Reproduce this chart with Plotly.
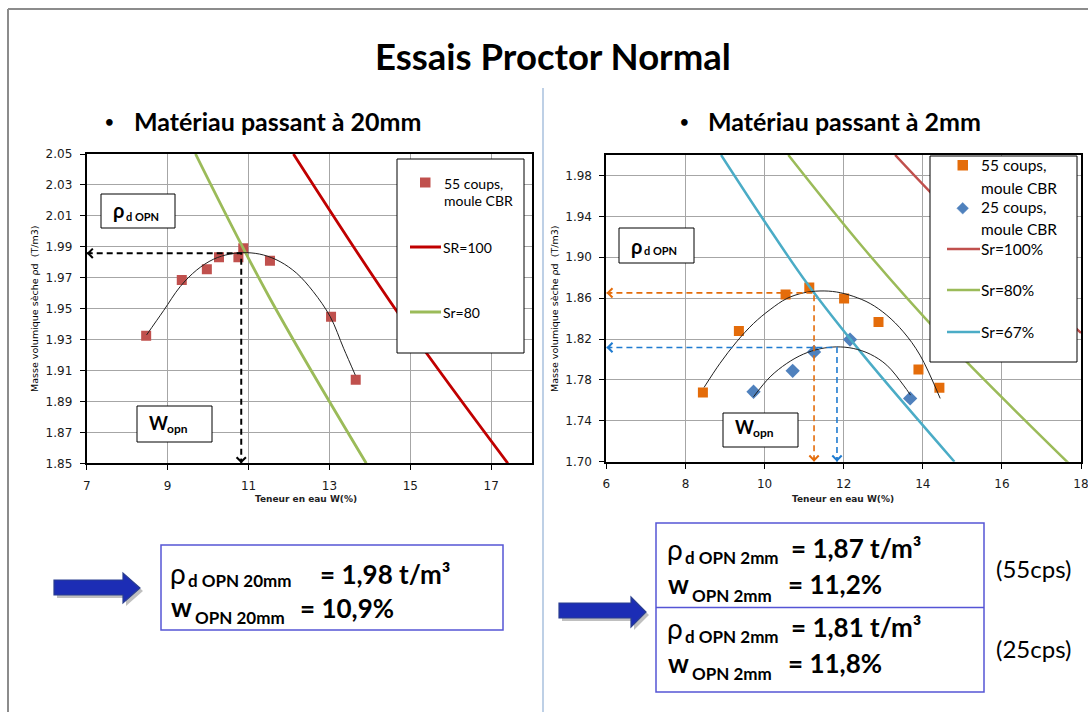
import plotly.graph_objects as go

# ---------------- DATA ----------------
# Left chart : material passing 20 mm, 55 blows, CBR mould
w_20 = [8.47, 9.35, 9.97, 10.27, 10.75, 10.87, 11.53, 13.04, 13.65]
rho_20 = [1.9325, 1.9685, 1.9754, 1.9832, 1.9832, 1.9890, 1.9810, 1.9448, 1.9040]
trend_20_w = [8.48, 8.90, 9.31, 9.72, 10.13, 10.54, 10.96, 11.37, 11.78, 12.19, 12.60, 13.02, 13.35, 13.64]
trend_20_rho = [1.9330, 1.9487, 1.9642, 1.9750, 1.9819, 1.9853, 1.9862, 1.9847, 1.9804, 1.9729, 1.9610, 1.9448, 1.9244, 1.9070]
sr100_20_w = [12.11, 14.70, 17.41]
sr100_20_rho = [2.05, 1.947, 1.85]
sr80_20_w = [9.69, 11.50, 13.91]
sr80_20_rho = [2.05, 1.958, 1.85]
opt_20 = [10.82, 1.9858]          # w, rho of the dashed guides

# Right chart : material passing 2 mm
w_2_55 = [8.44, 9.35, 10.53, 11.13, 12.01, 12.88, 13.89, 14.42]
rho_2_55 = [1.7678, 1.8279, 1.8635, 1.8703, 1.8596, 1.8367, 1.7902, 1.7723]
w_2_25 = [9.72, 10.71, 11.25, 12.16, 13.68]
rho_2_25 = [1.7684, 1.7889, 1.8074, 1.8195, 1.7619]
trend_55_w = [8.47, 8.87, 9.29, 9.72, 10.14, 10.56, 10.98, 11.40, 11.82, 12.24, 12.67, 13.09, 13.51, 13.93, 14.44]
trend_55_rho = [1.7727, 1.7961, 1.8172, 1.8352, 1.8488, 1.8596, 1.8651, 1.8670, 1.8660, 1.8618, 1.8547, 1.8433, 1.8270, 1.8042, 1.7619]
trend_25_w = [9.72, 10.14, 10.56, 10.98, 11.40, 11.82, 12.24, 12.67, 13.09, 13.51, 13.69]
trend_25_rho = [1.7635, 1.7830, 1.7961, 1.8052, 1.8104, 1.8123, 1.8108, 1.8052, 1.7944, 1.7749, 1.7651]
sr100_2_w = [13.30, 15.00, 18.00]
sr100_2_rho = [2.00, 1.932, 1.826]
sr80_2_w = [10.60, 12.50, 14.50, 17.70]
sr80_2_rho = [2.00, 1.909, 1.822, 1.698]
sr67_2_w = [8.90, 10.00, 11.10, 12.50, 14.80]
sr67_2_rho = [2.00, 1.935, 1.873, 1.804, 1.70]
opt_2_55 = [11.25, 1.8651]
opt_2_25 = [11.83, 1.8117]

x_ticks_left = [7, 9, 11, 13, 15, 17]
x_ticks_right = [6, 8, 10, 12, 14, 16, 18]

# ---------------- helpers ----------------
W, H = 1088, 712
FONT = "Lato"
AXF = "DejaVu Sans"


def PX(x):
    return x / W


def PY(y):
    return 1 - y / H


annotations = []
shapes = []


def txt(x, y, s, size, bold=False, color="black", xanchor="left", family=FONT, angle=0):
    annotations.append(dict(x=PX(x), y=PY(y), xref="paper", yref="paper", text=s,
                            showarrow=False, xanchor=xanchor, yanchor="middle",
                            textangle=angle, borderpad=0,
                            font=dict(family=family, size=size, color=color,
                                      weight="bold" if bold else "normal")))


def rect(x0, y0, x1, y1, line="black", width=1, fill="white"):
    shapes.append(dict(type="rect", xref="paper", yref="paper", x0=PX(x0), x1=PX(x1),
                       y0=PY(y0), y1=PY(y1), line=dict(color=line, width=width),
                       fillcolor=fill, layer="above"))


def seg(x0, y0, x1, y1, color, width):
    shapes.append(dict(type="line", xref="paper", yref="paper", x0=PX(x0), x1=PX(x1),
                       y0=PY(y0), y1=PY(y1), line=dict(color=color, width=width),
                       layer="above"))


def poly(points, fill, line, width=1):
    path = "M " + " L ".join(f"{PX(a):.5f},{PY(b):.5f}" for a, b in points) + " Z"
    shapes.append(dict(type="path", xref="paper", yref="paper", path=path,
                       fillcolor=fill, line=dict(color=line, width=width), layer="above"))


fig = go.Figure()

# ---------------- left chart traces ----------------
fig.add_trace(go.Scatter(x=w_20, y=rho_20, mode="markers", xaxis="x", yaxis="y",
                         marker=dict(symbol="square", size=10, color="#c0504d")))
fig.add_trace(go.Scatter(x=sr80_20_w, y=sr80_20_rho, mode="lines", xaxis="x", yaxis="y",
                         line=dict(color="#9bbb59", width=2.8, shape="spline")))
fig.add_trace(go.Scatter(x=sr100_20_w, y=sr100_20_rho, mode="lines", xaxis="x", yaxis="y",
                         line=dict(color="#c00000", width=2.8, shape="spline")))
fig.add_trace(go.Scatter(x=trend_20_w, y=trend_20_rho, mode="lines", xaxis="x", yaxis="y",
                         line=dict(color="#202020", width=1, shape="spline")))
fig.add_trace(go.Scatter(x=[7, opt_20[0], opt_20[0]], y=[opt_20[1], opt_20[1], 1.85],
                         mode="lines", xaxis="x", yaxis="y",
                         line=dict(color="black", width=2, dash="6px,4px")))

# ---------------- right chart traces ----------------
fig.add_trace(go.Scatter(x=w_2_55, y=rho_2_55, mode="markers", xaxis="x2", yaxis="y2",
                         marker=dict(symbol="square", size=10, color="#e46c0a")))
fig.add_trace(go.Scatter(x=w_2_25, y=rho_2_25, mode="markers", xaxis="x2", yaxis="y2",
                         marker=dict(symbol="diamond", size=11, color="#4f81bd")))
fig.add_trace(go.Scatter(x=sr100_2_w, y=sr100_2_rho, mode="lines", xaxis="x2", yaxis="y2",
                         line=dict(color="#c0504d", width=2.5, shape="spline")))
fig.add_trace(go.Scatter(x=sr80_2_w, y=sr80_2_rho, mode="lines", xaxis="x2", yaxis="y2",
                         line=dict(color="#9bbb59", width=2.5, shape="spline")))
fig.add_trace(go.Scatter(x=sr67_2_w, y=sr67_2_rho, mode="lines", xaxis="x2", yaxis="y2",
                         line=dict(color="#4bacc6", width=2.5, shape="spline")))
fig.add_trace(go.Scatter(x=trend_55_w, y=trend_55_rho, mode="lines", xaxis="x2", yaxis="y2",
                         line=dict(color="#202020", width=1, shape="spline")))
fig.add_trace(go.Scatter(x=trend_25_w, y=trend_25_rho, mode="lines", xaxis="x2", yaxis="y2",
                         line=dict(color="#202020", width=1, shape="spline")))
fig.add_trace(go.Scatter(x=[6, opt_2_55[0], opt_2_55[0]], y=[opt_2_55[1], opt_2_55[1], 1.70],
                         mode="lines", xaxis="x2", yaxis="y2",
                         line=dict(color="#e46c0a", width=1.6, dash="6px,4px")))
fig.add_trace(go.Scatter(x=[6, opt_2_25[0], opt_2_25[0]], y=[opt_2_25[1], opt_2_25[1], 1.70],
                         mode="lines", xaxis="x2", yaxis="y2",
                         line=dict(color="#1f7bd0", width=1.6, dash="6px,4px")))


# arrow heads on the dashed guides
def head(xr, yr, x, y, ax, ay, color):
    annotations.append(dict(x=x, y=y, xref=xr, yref=yr, ax=ax, ay=ay, text="",
                            showarrow=True, arrowhead=4, arrowsize=1.2, arrowwidth=1.5,
                            arrowcolor=color, standoff=0))


head("x", "y", 7, opt_20[1], 6, 0, "black")
head("x", "y", opt_20[0], 1.85, 0, -6, "black")
head("x2", "y2", 6, opt_2_55[1], 6, 0, "#e46c0a")
head("x2", "y2", opt_2_55[0], 1.70, 0, -6, "#e46c0a")
head("x2", "y2", 6, opt_2_25[1], 6, 0, "#1f7bd0")
head("x2", "y2", opt_2_25[0], 1.70, 0, -6, "#1f7bd0")

# ---------------- slide decorations ----------------
seg(8, 9, 1088, 9, "#8c8c8c", 2)
seg(8, 9, 8, 712, "#8c8c8c", 2)
seg(543, 88, 543, 712, "#a9c0de", 1.5)

txt(553, 56, "Essais Proctor Normal", 36.5, bold=True, xanchor="center")
txt(104, 121, "•", 15, bold=True)
txt(133, 121, "Matériau passant à 20mm", 25, bold=True)
txt(679, 121, "•", 15, bold=True)
txt(707, 121, "Matériau passant à 2mm", 25, bold=True)

# ---------------- left chart overlays ----------------
rect(397, 159, 524, 353)
shapes.append(dict(type="rect", xref="paper", yref="paper", x0=PX(420), x1=PX(430.5),
                   y0=PY(177.5), y1=PY(187.5), line=dict(width=0), fillcolor="#c0504d",
                   layer="above"))
txt(443, 183, "55 coups,", 14)
txt(443, 201, "moule CBR", 14)
seg(410, 247, 441, 247, "#c00000", 3)
txt(442, 247, "SR=100", 14)
seg(410, 312, 441, 312, "#9bbb59", 3)
txt(442, 312, "Sr=80", 14)

rect(101, 194, 175, 228)
txt(112, 210, "ρ", 20, bold=True)
txt(125, 216, "d OPN", 11, bold=True)
rect(137, 406, 212, 442)
txt(148, 423, "W", 18, bold=True)
txt(166, 428, "opn", 12, bold=True)

txt(34, 309, "Masse volumique sèche ρd  (T/m3)", 9.5, family=AXF, angle=-90,
    xanchor="center")
txt(306, 499, "Teneur en eau W(%)", 9, bold=True, family=AXF, color="#222",
    xanchor="center")

# ---------------- right chart overlays ----------------
rect(930, 156, 1077, 362)
shapes.append(dict(type="rect", xref="paper", yref="paper", x0=PX(957.5), x1=PX(968),
                   y0=PY(160), y1=PY(170.5), line=dict(width=0), fillcolor="#e46c0a",
                   layer="above"))
poly([(962.7, 202.5), (968.5, 208.3), (962.7, 214.1), (956.9, 208.3)], "#4f81bd", "#4f81bd", 0.5)
txt(980, 165, "55 coups,", 15.5)
txt(980, 188, "moule CBR", 15.5)
txt(980, 207.5, "25 coups,", 15.5)
txt(980, 229, "moule CBR", 15.5)
seg(947, 249, 980, 249, "#c0504d", 2.5)
txt(980, 249, "Sr=100%", 15.5)
seg(947, 290, 980, 290, "#9bbb59", 2.5)
txt(980, 290, "Sr=80%", 15.5)
seg(947, 332, 980, 332, "#4bacc6", 2.5)
txt(980, 332, "Sr=67%", 15.5)

rect(619, 228, 694, 263)
txt(630, 246, "ρ", 20, bold=True)
txt(643, 251, "d OPN", 11, bold=True)
rect(723, 413, 798, 447)
txt(734, 427, "W", 18, bold=True)
txt(752, 432, "opn", 12, bold=True)

txt(554, 309, "Masse volumique sèche ρd  (T/m3)", 9.5, family=AXF, angle=-90,
    xanchor="center")
txt(843, 499, "Teneur en eau W(%)", 9, bold=True, family=AXF, color="#222",
    xanchor="center")

# ---------------- bottom result boxes ----------------
# left arrow (shadow + body)
poly([(57, 583), (126, 583), (126, 576), (143, 591), (126, 606), (126, 598), (57, 598)],
     "rgba(0,0,0,0.25)", "rgba(0,0,0,0)", 0)
poly([(54, 580), (123, 580), (123, 573), (140, 588), (123, 603), (123, 595), (54, 595)],
     "#1c2db5", "#2b3f8f", 1.2)
rect(161, 545, 503, 630, line="#5555d5", width=1.5)
txt(169, 573, "ρ", 28)
txt(187, 580, "d OPN 20mm", 17, bold=True)
txt(319, 574, "= 1,98 t/m³", 26, bold=True)
txt(170, 607, "w", 26, bold=True)
txt(194, 617, "OPN 20mm", 17, bold=True)
txt(299, 608, "= 10,9%", 26, bold=True)

# right arrow
poly([(562, 606), (634, 606), (634, 600), (649, 615), (634, 630), (634, 621), (562, 621)],
     "rgba(0,0,0,0.25)", "rgba(0,0,0,0)", 0)
poly([(559, 603), (631, 603), (631, 597), (646, 612), (631, 627), (631, 618), (559, 618)],
     "#1c2db5", "#2b3f8f", 1.2)
rect(656, 523, 984, 692, line="#5555d5", width=1.5)
seg(656, 607.5, 984, 607.5, "#5555d5", 1.5)
txt(666, 549, "ρ", 28)
txt(684, 557, "d OPN 2mm", 17, bold=True)
txt(790, 548, "= 1,87 t/m³", 26, bold=True)
txt(667, 584, "w", 26, bold=True)
txt(691, 595, "OPN 2mm", 17, bold=True)
txt(787, 584, "= 11,2%", 26, bold=True)
txt(666, 628, "ρ", 28)
txt(684, 636, "d OPN 2mm", 17, bold=True)
txt(790, 627, "= 1,81 t/m³", 26, bold=True)
txt(667, 663, "w", 26, bold=True)
txt(691, 673, "OPN 2mm", 17, bold=True)
txt(787, 663, "= 11,8%", 26, bold=True)
txt(995, 568, "(55cps)", 24)
txt(995, 648, "(25cps)", 24)

# ---------------- axes ----------------
axis_common = dict(showgrid=True, gridcolor="#a6a6a6", gridwidth=1, showline=True,
                   linecolor="black", linewidth=2, mirror=True, ticks="outside",
                   ticklen=5, tickcolor="black", tickwidth=1, zeroline=False,
                   automargin=False, ticklabeloverflow="allow",
                   tickfont=dict(family=AXF, size=12, color="#1a1a1a"))

fig.update_layout(
    width=W, height=H, margin=dict(l=0, r=0, t=0, b=0, autoexpand=False),
    paper_bgcolor="white", plot_bgcolor="white", showlegend=False,
    xaxis=dict(domain=[PX(86.7), PX(531.7)], range=[7, 18], tickvals=x_ticks_left,
               anchor="y", ticklabelstandoff=5, **axis_common),
    yaxis=dict(domain=[PY(463.3), PY(154)], range=[1.85, 2.05], tick0=1.85, dtick=0.02,
               tickformat=".2f", anchor="x", ticklabelstandoff=5, **axis_common),
    xaxis2=dict(domain=[PX(606.4), PX(1081)], range=[6, 18], tickvals=x_ticks_right,
                anchor="y2", ticklabelstandoff=5, **axis_common),
    yaxis2=dict(domain=[PY(461.7), PY(155)], range=[1.70, 2.00], tick0=1.70, dtick=0.04,
                tickformat=".2f", anchor="x2", ticklabelstandoff=5, **axis_common),
    annotations=annotations, shapes=shapes,
)

fig.write_html("out.html", config={"displayModeBar": False},
               post_script="document.body.style.margin='0';")
